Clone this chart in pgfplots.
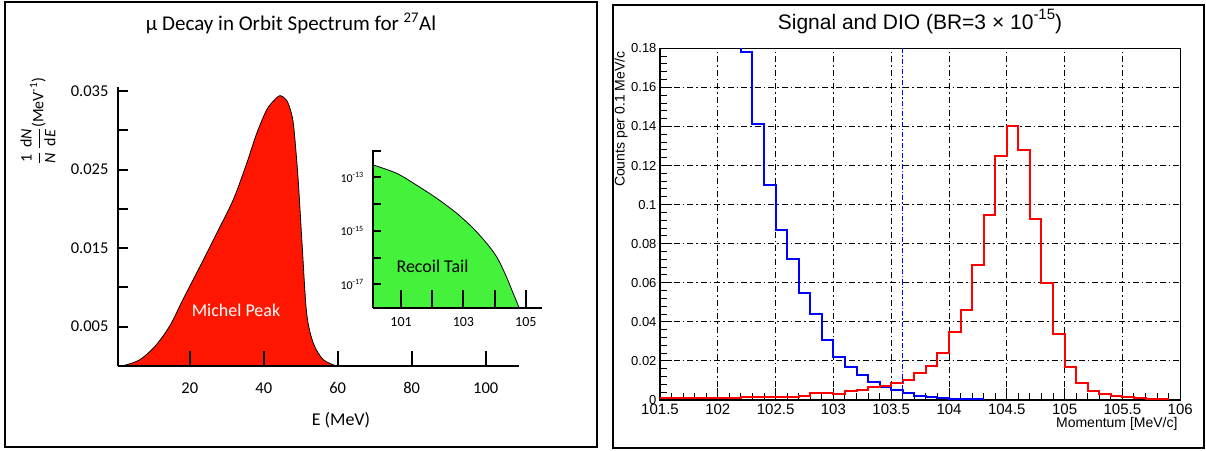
\documentclass[border=0pt]{standalone}
\usepackage{pgfplots}
\pgfplotsset{compat=1.18}
\usepackage{amsmath}
\usepackage{fontspec}
\setmainfont{Carlito}
\newfontfamily\helv{Liberation Sans}
\definecolor{peakred}{RGB}{255,22,0}
\definecolor{tailgreen}{RGB}{68,242,60}
\newcommand\fs[1]{\fontsize{#1}{#1}\selectfont}

\begin{document}
\begin{tikzpicture}[x=1pt,y=1pt]
\path[use as bounding box] (0,0) rectangle (1206,450);
\draw[line width=2pt] (4.5,3.5) rectangle (596.5,448);
\draw[line width=2pt] (612.5,2.5) rectangle (1203.5,445);

% left: Michel spectrum
\begin{axis}[at={(118pt,84pt)}, anchor=south west, scale only axis,
    width=401pt, height=279pt,
    xmin=0.6, xmax=109, ymin=0, ymax=0.0355,
    scaled ticks=false,
    axis lines*=left, axis line style={line width=2.2pt},
    tick align=inside, major tick style={black, line width=2pt},
    xtick style={/pgfplots/major tick length=15pt},
    ytick style={/pgfplots/major tick length=10pt},
    xtick={20,40,60,80,100}, xticklabels={20,40,60,80,100},
    ytick={0.005,0.01,0.015,0.02,0.025,0.03,0.035},
    yticklabels={0.005,{},0.015,{},0.025,{},0.035},
    xticklabel style={font=\fs{16.5}, yshift=-13pt},
    yticklabel style={font=\fs{16.5}, xshift=-6pt},
    axis on top]
\addplot[fill=peakred, draw=black, line width=0.8pt, smooth] coordinates {
  (0.6,0) (2.5,0.0001) (6.5,0.0008) (10.6,0.0025) (14.6,0.0051) (18.2,0.0085)
  (22.8,0.0127) (27.3,0.0169) (31.8,0.0212) (35.4,0.0258) (38.1,0.0296)
  (40.8,0.0326) (43.0,0.0339) (44.4,0.0344) (46.2,0.0338) (47.5,0.0321)
  (48.2,0.0300) (49.3,0.0237) (50.4,0.0152) (51.6,0.0067) (53.4,0.0029)
  (56.1,0.0008) (59.7,0)} \closedcycle;
\end{axis}

% inset: recoil tail
\begin{axis}[at={(373.3pt,142.3pt)}, anchor=south west, scale only axis,
    width=168.4pt, height=157.7pt,
    xmin=100.11, xmax=105.51, ymode=log, ymin=1.35e-18, ymax=1.05e-12,
    log origin y=infty,
    axis lines*=left, axis line style={line width=2.2pt},
    tick align=inside, major tick style={black, line width=2pt},
    xtick style={/pgfplots/major tick length=18pt},
    ytick style={/pgfplots/major tick length=8pt},
    yminorticks=false,
    xtick={101,102,103,104,105}, xticklabels={101,{},103,{},105},
    ytick={1e-17,1e-16,1e-15,1e-14,1e-13,1e-12},
    yticklabels={10\textsuperscript{-17},{},10\textsuperscript{-15},{},10\textsuperscript{-13},{}},
    xticklabel style={font=\fs{14}, yshift=-6.5pt},
    yticklabel style={font=\fs{12}, xshift=-6pt},
    axis on top]
\addplot[fill=tailgreen, draw=black, line width=0.8pt, smooth] coordinates {
  (100.11,2.9e-13) (100.86,1.41e-13) (101.5,5.1e-14) (102.14,1.66e-14)
  (102.78,4.6e-15) (103.31,1.26e-15) (103.74,3.5e-16) (104.06,1.1e-16)
  (104.33,2.6e-17) (104.55,6.3e-18) (104.78,1.4e-18)} \closedcycle;
\end{axis}

\node[font=\fs{21}] at (291,426.5) {μ Decay in Orbit Spectrum for \textsuperscript{27}Al};
\node[rotate=90, font=\fs{16}] at (38,329)
  {$\dfrac{\text{1}}{\textit{N}}\,\dfrac{\text{d}\textit{N}}{\text{d}\textit{E}}$(MeV\textsuperscript{-1})};
\node[white, font=\fs{18}] at (236,140) {Michel Peak};
\node[font=\fs{18}] at (432.5,183.3) {Recoil Tail};
\node[font=\fs{18}] at (341,30) {E (MeV)};

% right: signal and DIO histograms
\begin{axis}[at={(660pt,50pt)}, anchor=south west, scale only axis,
    width=520.2pt, height=351.7pt,
    xmin=101.5, xmax=106, ymin=0, ymax=0.18,
    axis line style={line width=1.2pt},
    xtick={101.5,102,102.5,103,103.5,104,104.5,105,105.5,106},
    ytick={0,0.02,0.04,0.06,0.08,0.1,0.12,0.14,0.16,0.18},
    xticklabels={101.5,102,102.5,103,103.5,104,104.5,105,105.5,106},
    yticklabels={0,0.02,0.04,0.06,0.08,0.1,0.12,0.14,0.16,0.18},
    minor x tick num=4, minor y tick num=4,
    tick align=inside, tick pos=left,
    major tick length=12pt, minor tick length=7pt,
    every tick/.style={black, line width=1pt},
    grid=major, grid style={black, line width=0.9pt, dash pattern=on 6pt off 3pt on 1.5pt off 3pt},
    xticklabel style={font=\helv\fs{15}},
    yticklabel style={font=\helv\fs{13}}]
\addplot[blue, line width=2pt, const plot] coordinates {
  (102.2,0.18) (102.2,0.178) (102.3,0.141) (102.4,0.110) (102.5,0.087)
  (102.6,0.072) (102.7,0.055) (102.8,0.044) (102.9,0.0307) (103.0,0.0222)
  (103.1,0.0167) (103.2,0.0128) (103.3,0.0092) (103.4,0.0068) (103.5,0.0051)
  (103.6,0.0034) (103.7,0.0022) (103.8,0.0014) (103.9,0.0008) (104.0,0.0007)
  (104.1,0.0006) (104.2,0.0005) (104.3,0.0005)};
\addplot[red, line width=2pt, const plot] coordinates {
  (101.5,0.0010) (101.6,0.0010) (101.7,0.0010) (101.8,0.0010) (101.9,0.0010)
  (102.0,0.0010) (102.1,0.0010) (102.2,0.0013) (102.3,0.0013) (102.4,0.0013)
  (102.5,0.0017) (102.6,0.0017) (102.7,0.0022) (102.8,0.0034) (102.9,0.0035)
  (103.0,0.0033) (103.1,0.0045) (103.2,0.0052) (103.3,0.0065) (103.4,0.0072)
  (103.5,0.0087) (103.6,0.0100) (103.7,0.0137) (103.8,0.0174) (103.9,0.0240)
  (104.0,0.0350) (104.1,0.0460) (104.2,0.0690) (104.3,0.0947) (104.4,0.1250)
  (104.5,0.1400) (104.6,0.1280) (104.7,0.0925) (104.8,0.0600) (104.9,0.0336)
  (105.0,0.0167) (105.1,0.0089) (105.2,0.0047) (105.3,0.0029) (105.4,0.0020)
  (105.5,0.0014) (105.6,0.0008) (105.7,0.0007) (105.8,0.0007) (105.9,0.0007)};
\addplot[blue, line width=1.2pt, dash pattern=on 5pt off 2pt on 1.5pt off 2pt]
  coordinates {(103.6,0) (103.6,0.18)};
\end{axis}

\node[font=\helv\fs{21}, anchor=base] at (920,420)
  {Signal and DIO (BR=3 × 10\raisebox{0.5em}{\fs{15}-15})};
\node[rotate=90, anchor=east, font=\helv\fs{14}] at (621,402) {Counts per 0.1 MeV/c};
\node[anchor=east, font=\helv\fs{14}] at (1181,26) {Momentum [MeV/c]};
\end{tikzpicture}
\end{document}
